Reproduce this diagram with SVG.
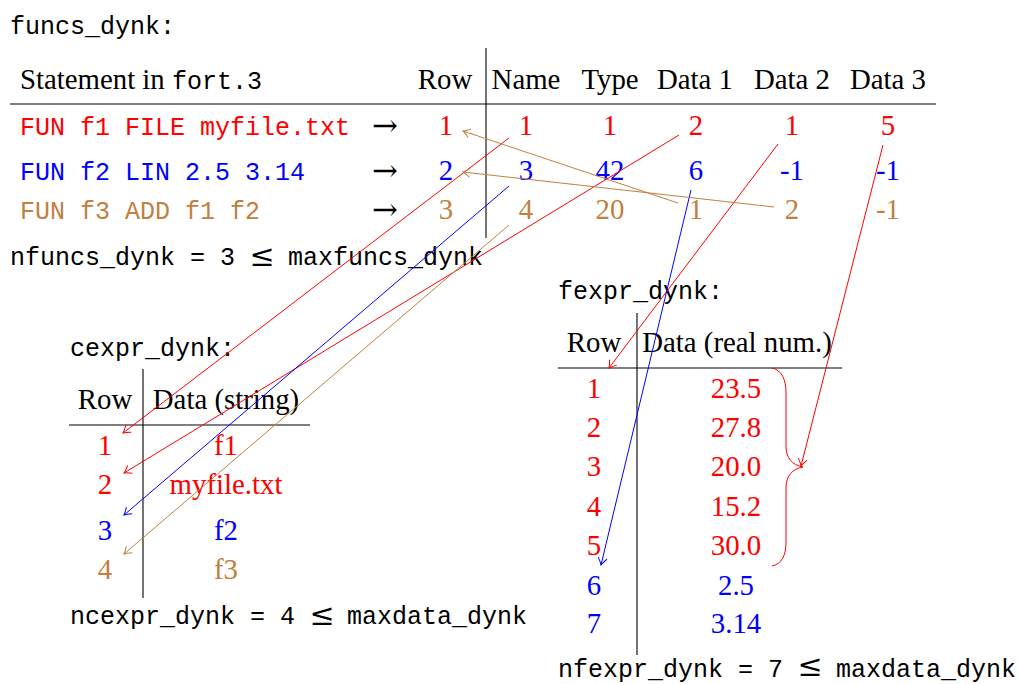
<svg xmlns="http://www.w3.org/2000/svg" width="1019" height="684" viewBox="0 0 1019 684">
<style>
.tt{font-family:"Liberation Mono","DejaVu Sans Mono",monospace;font-size:25px}
.rm{font-family:"Liberation Serif","DejaVu Serif",serif;font-size:28.8px}
.sym{font-family:"DejaVu Serif","Liberation Serif",serif;font-size:31px;text-anchor:middle}
.le{font-family:"DejaVu Serif","Liberation Serif",serif;font-size:30px;text-anchor:middle}
.c{text-anchor:middle}
.r{fill:#ff0000}.b{fill:#0000ff}.n{fill:#bf8040}.k{fill:#000}
.rule{stroke:#000;stroke-width:1.1;fill:none}
.lr{stroke:#ff0000;stroke-width:1;fill:none}
.lb{stroke:#0000ff;stroke-width:1;fill:none}
.ln{stroke:#bf8040;stroke-width:1;fill:none}
</style>
<defs>
<marker id="ar" markerUnits="userSpaceOnUse" markerWidth="14" markerHeight="14" refX="0" refY="0" viewBox="-8 -7 10 14" orient="auto"><path d="M-7,-4.5 Q-2.5,-1 0,0 Q-2.5,1 -7,4.5" fill="none" stroke="#ff0000" stroke-width="1"/></marker>
<marker id="ab" markerUnits="userSpaceOnUse" markerWidth="14" markerHeight="14" refX="0" refY="0" viewBox="-8 -7 10 14" orient="auto"><path d="M-7,-4.5 Q-2.5,-1 0,0 Q-2.5,1 -7,4.5" fill="none" stroke="#0000ff" stroke-width="1"/></marker>
<marker id="an" markerUnits="userSpaceOnUse" markerWidth="14" markerHeight="14" refX="0" refY="0" viewBox="-8 -7 10 14" orient="auto"><path d="M-7,-4.5 Q-2.5,-1 0,0 Q-2.5,1 -7,4.5" fill="none" stroke="#bf8040" stroke-width="1"/></marker>
</defs>
<rect width="1019" height="684" fill="#fff"/>

<g id="funcs_dynk">
<text class="tt k" x="10" y="34">funcs_dynk:</text>
<text class="rm k" x="20" y="89">Statement in <tspan class="tt">fort.3</tspan></text>
<text class="rm k c" x="445" y="89">Row</text>
<text class="rm k c" x="526" y="89">Name</text>
<text class="rm k c" x="610" y="89">Type</text>
<text class="rm k c" x="695" y="89">Data 1</text>
<text class="rm k c" x="792" y="89">Data 2</text>
<text class="rm k c" x="888" y="89">Data 3</text>
<line class="rule" x1="10" y1="104" x2="936" y2="104"/>
<line class="rule" x1="486" y1="48" x2="486" y2="238"/>
<text class="tt r" x="20" y="135">FUN f1 FILE myfile.txt</text>
<text class="tt b" x="20" y="180">FUN f2 LIN 2.5 3.14</text>
<text class="tt n" x="20" y="219">FUN f3 ADD f1 f2</text>
<text class="sym k" x="385" y="136">→</text>
<text class="sym k" x="385" y="181">→</text>
<text class="sym k" x="385" y="220">→</text>
<g class="rm c r"><text x="446" y="135">1</text><text x="526" y="135">1</text><text x="610" y="135">1</text><text x="696" y="135">2</text><text x="792" y="135">1</text><text x="888" y="135">5</text></g>
<g class="rm c b"><text x="446" y="180">2</text><text x="526" y="180">3</text><text x="610" y="180">42</text><text x="696" y="180">6</text><text x="792" y="180">-1</text><text x="888" y="180">-1</text></g>
<g class="rm c n"><text x="446" y="219">3</text><text x="526" y="219">4</text><text x="610" y="219">20</text><text x="696" y="219">1</text><text x="792" y="219">2</text><text x="888" y="219">-1</text></g>
<text class="tt k" x="10" y="265">nfuncs_dynk = 3</text>
<text class="le k" x="262" y="266">≤</text>
<text class="tt k" x="288" y="265">maxfuncs_dynk</text>
</g>

<g id="cexpr_dynk">
<text class="tt k" x="70" y="356">cexpr_dynk:</text>
<text class="rm k c" x="105" y="409">Row</text>
<text class="rm k c" x="226" y="409">Data (string)</text>
<line class="rule" x1="69" y1="425" x2="310" y2="425"/>
<line class="rule" x1="143" y1="369" x2="143" y2="598"/>
<text class="rm r c" x="105" y="455">1</text><text class="rm r c" x="226" y="455">f1</text>
<text class="rm r c" x="105" y="494">2</text><text class="rm r c" x="226" y="494">myfile.txt</text>
<text class="rm b c" x="105" y="540">3</text><text class="rm b c" x="226" y="540">f2</text>
<text class="rm n c" x="105" y="579">4</text><text class="rm n c" x="226" y="579">f3</text>
<text class="tt k" x="70" y="624">ncexpr_dynk = 4</text>
<text class="le k" x="322" y="625">≤</text>
<text class="tt k" x="347" y="624">maxdata_dynk</text>
</g>

<g id="fexpr_dynk">
<text class="tt k" x="558" y="299">fexpr_dynk:</text>
<text class="rm k c" x="594" y="352">Row</text>
<text class="rm k c" x="737" y="352">Data (real num.)</text>
<line class="rule" x1="558" y1="368" x2="842" y2="368"/>
<line class="rule" x1="637" y1="313" x2="637" y2="655"/>
<g class="rm c r">
<text x="594" y="398">1</text><text x="736" y="398">23.5</text>
<text x="594" y="437">2</text><text x="736" y="437">27.8</text>
<text x="594" y="476">3</text><text x="736" y="476">20.0</text>
<text x="594" y="516">4</text><text x="736" y="516">15.2</text>
<text x="594" y="555">5</text><text x="736" y="555">30.0</text>
</g>
<g class="rm c b">
<text x="594" y="595">6</text><text x="736" y="595">2.5</text>
<text x="594" y="633">7</text><text x="736" y="633">3.14</text>
</g>
<path class="lr" d="M772,368 C782,370 786,380 786,393 L786,446 C786,458 792,465 803,467 C792,469 786,476 786,488 L786,542 C786,555 782,564 772,566"/>
<text class="tt k" x="558" y="677">nfexpr_dynk = 7</text>
<text class="le k" x="810" y="676">≤</text>
<text class="tt k" x="836" y="677">maxdata_dynk</text>
</g>

<g id="connectors">
<line class="lr" x1="509" y1="138" x2="123" y2="433" marker-end="url(#ar)"/>
<line class="lr" x1="679" y1="135" x2="124" y2="473" marker-end="url(#ar)"/>
<line class="lr" x1="778" y1="144" x2="609" y2="368" marker-end="url(#ar)"/>
<line class="lr" x1="883" y1="145" x2="801" y2="466" marker-end="url(#ar)"/>
<line class="lb" x1="509" y1="186" x2="124" y2="515" marker-end="url(#ab)"/>
<line class="lb" x1="691" y1="190" x2="601" y2="565" marker-end="url(#ab)"/>
<line class="ln" x1="678" y1="203" x2="463" y2="131" marker-end="url(#an)"/>
<line class="ln" x1="774" y1="207" x2="463" y2="172" marker-end="url(#an)"/>
<line class="ln" x1="509" y1="225" x2="124" y2="554" marker-end="url(#an)"/>
</g>
</svg>
